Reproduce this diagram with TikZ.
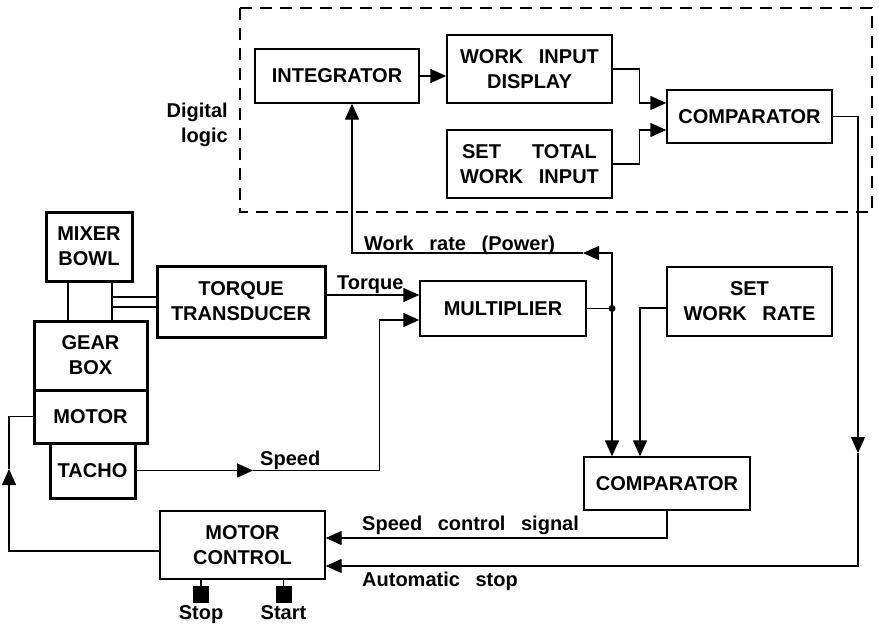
\documentclass[tikz,border=0pt]{standalone}
\usepackage{fontspec}
\setmainfont{Liberation Sans}[WordSpace=2.8]
\usepackage{tikz}
\usetikzlibrary{positioning,calc,arrows.meta}

\begin{document}
\begin{tikzpicture}[x=1pt,y=-1pt,
  font=\fontsize{20}{25}\selectfont\bfseries,
  blk/.style={draw,line width=1.4pt,align=center,inner sep=0pt},
  hvy/.style={blk,line width=3pt},
  lbl/.style={inner sep=0pt},
  wire/.style={line width=1.4pt},
  arr/.style={wire,-{Triangle[length=16pt,width=14pt]}},
  shaft/.style={line width=2.6pt}]
  \useasboundingbox (0,0) rectangle (879,624);
  % digital logic
  \draw[line width=1.4pt,dash pattern=on 12pt off 8pt] (240,8) rectangle (872,212);
  \node[lbl,align=right,anchor=east] (dl) at (228,125) {Digital\\logic};
  \node[blk,minimum width=164pt,minimum height=54pt] (n00) at (337,76) {INTEGRATOR};
  \node[blk,minimum width=165pt,minimum height=68pt] (n01) at (529.5,69) {WORK INPUT\\DISPLAY};
  \node[blk,minimum width=165pt,minimum height=68pt] (n02) at (529.5,164) {SET~~TOTAL\\WORK INPUT};
  \node[blk,minimum width=165pt,minimum height=53pt] (n03) at (749.5,116.5) {COMPARATOR};
  % mixer
  \node[hvy,minimum width=86pt,minimum height=69pt] (n10) at (89,246.5) {MIXER\\BOWL};
  \node[hvy,minimum width=113pt,minimum height=69pt] (n11) at (90.5,355.5) {GEAR\\BOX};
  \node[hvy,minimum width=113pt,minimum height=53pt] (n12) at (90.5,416.5) {MOTOR};
  \node[hvy,minimum width=85pt,minimum height=55pt] (n13) at (92.5,470.5) {TACHO};
  \node[hvy,minimum width=168pt,minimum height=71pt] (n14) at (241,301.5) {TORQUE\\TRANSDUCER};
  % control
  \node[blk,minimum width=166pt,minimum height=55pt] (n20) at (503,308.5) {MULTIPLIER};
  \node[blk,minimum width=165pt,minimum height=69pt] (n21) at (749.5,301.5) {SET\\WORK RATE};
  \node[blk,minimum width=166pt,minimum height=53pt] (n22) at (667,483.5) {COMPARATOR};
  \node[blk,minimum width=165pt,minimum height=68pt] (n23) at (242.5,545) {MOTOR\\CONTROL};
  \node[fill,minimum width=16pt,minimum height=17pt,inner sep=0pt] (b0) at (201,594.5) {};
  \node[fill,minimum width=16pt,minimum height=17pt,inner sep=0pt] (b1) at (283.5,594.5) {};
  \node[lbl,below=2pt of b0] (t0) {Stop};
  \node[lbl,below=2pt of b1] (t1) {Start};
  % labels
  \node[lbl,anchor=base west] (l0) at (364,250) {Work rate (Power)};
  \node[lbl,anchor=base west] (l1) at (337,289) {Torque};
  \node[lbl,anchor=base west] (l2) at (260,465) {Speed};
  \node[lbl,anchor=base west] (l3) at (362,530) {Speed control signal};
  \node[lbl,anchor=base west] (l4) at (362,586) {Automatic stop};
  % points
  \coordinate (m0) at ([yshift=13.5pt]n20.west);
  \coordinate (m1) at ([yshift=-11.5pt]n20.west);
  \coordinate (c0) at ([yshift=13.5pt]n03.west);
  \coordinate (c1) at ([yshift=-13.5pt]n03.west);
  \coordinate (k0) at ([yshift=7pt]n23.east);
  \coordinate (k1) at ([yshift=-21pt]n23.east);
  \coordinate (j0) at (612,308.5);
  \coordinate (a0) at (583,253);
  \coordinate (a1) at (253,470.5);
  \coordinate (a2) at (858,453);
  \coordinate (a3) at (9,469);
  \coordinate (s0) at (68,281);
  \coordinate (s1) at (112,281);
  \coordinate (s2) at (112,297);
  \coordinate (s3) at (112,307);
  % shafts
  \draw[shaft] (s0) -- (s0 |- n11.north);
  \draw[shaft] (s1) -- (s1 |- n11.north);
  \draw[line width=2pt] (s2) -- (s2 -| n14.west);
  \draw[line width=2pt] (s3) -- (s3 -| n14.west);
  % signals
  \draw[arr] (n00.east) -- (n00.east -| n01.west);
  \draw[arr] (n01.east) -- ++(27,0) |- (c0);
  \draw[arr] (n02.east) -- ++(27,0) |- (c1);
  \draw[arr] (n03.east) -| (a2);
  \draw[arr] (a2) |- (k1);
  \draw[wire] (n20.east) -- (j0);
  \fill (j0) circle (3.5pt);
  \draw[arr] (j0) |- (a0);
  \draw[arr] (a0) -| ([xshift=15pt]n00.south);
  \draw[arr] (j0) -- (j0 |- n22.north);
  \draw[arr] ([yshift=-6.5pt]n21.west) -| ([xshift=-27pt]n22.north);
  \draw[arr] (n22.south) |- (k0);
  \draw[arr] (n14.east |- m0) -- (m0);
  \draw[arr] (n13.east) -- (a1);
  \draw[arr] (a1) -| ($(m1)+(-40,0)$) -- (m1);
  \draw[arr] ([yshift=-6pt]n23.west) -| (a3);
  \draw[wire] (a3) |- (n12.west);
  \draw[wire] (b0.north) -- (b0 |- n23.south);
  \draw[wire] (b1.north) -- (b1 |- n23.south);
\end{tikzpicture}
\end{document}
